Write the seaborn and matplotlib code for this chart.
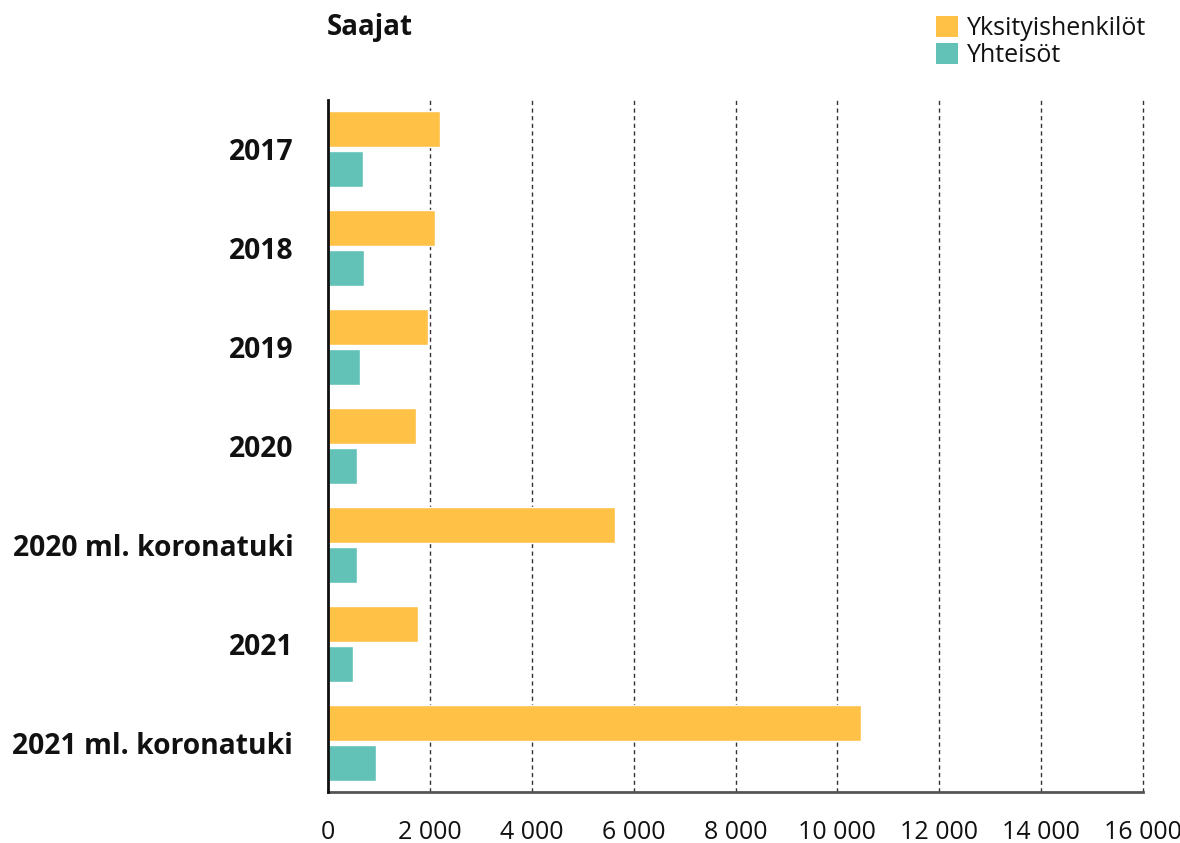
import matplotlib
matplotlib.use("Agg")
import matplotlib.pyplot as plt
from matplotlib.patches import Patch
from matplotlib.ticker import FuncFormatter, MultipleLocator
import pandas as pd
import seaborn as sns

# Recipients of support, by year
years = ["2017", "2018", "2019", "2020", "2020 ml. koronatuki", "2021", "2021 ml. koronatuki"]
individuals = [2190, 2110, 1960, 1720, 5630, 1760, 10460]
organisations = [680, 700, 620, 560, 560, 500, 950]
series_names = ["Yksityishenkilöt", "Yhteisöt"]
colors = ["#FFC247", "#62C2B8"]

df = pd.DataFrame({
    "Vuosi": years * 2,
    "Arvo": individuals + organisations,
    "Saaja": [series_names[0]] * len(years) + [series_names[1]] * len(years),
})

sns.set_theme(style="white")
plt.rcParams["font.family"] = ["Open Sans", "DejaVu Sans"]

fig = plt.figure(figsize=(11.8, 8.43), dpi=100)
ax = fig.add_axes([328 / 1180, 1 - 792 / 843, (1143 - 328) / 1180, (792 - 100) / 843])

sns.barplot(
    data=df, x="Arvo", y="Vuosi", hue="Saaja", order=years, hue_order=series_names,
    palette=colors, orient="h", width=0.81, gap=0.1, legend=False, ax=ax,
    saturation=1, zorder=3,
)

ax.set_xlim(0, 16000)
ax.set_ylim(6.5, -0.5)
ax.xaxis.set_major_locator(MultipleLocator(2000))
ax.xaxis.set_major_formatter(FuncFormatter(lambda v, p: f"{int(v):,}".replace(",", " ")))
ax.grid(axis="x", linestyle=(0, (3, 2.5)), color="#333333", linewidth=1.0, zorder=0)
ax.grid(axis="y", visible=False)
# keep the outermost gridline fully visible at the right edge
for gl in ax.get_xgridlines():
    gl.set_clip_on(False)

for side in ["top", "right"]:
    ax.spines[side].set_visible(False)
ax.spines["left"].set_color("#111111")
ax.spines["left"].set_linewidth(2)
ax.spines["left"].set_zorder(5)
ax.spines["bottom"].set_color("#555555")
ax.spines["bottom"].set_linewidth(2)

ax.set_xlabel("")
ax.set_ylabel("")
ax.tick_params(axis="x", length=0, pad=20, labelsize=18, colors="#111111")
ax.tick_params(axis="y", length=0, pad=25, labelsize=20.3)
for lbl in ax.get_yticklabels():
    lbl.set_fontweight("bold")
    lbl.set_color("#111111")

fig.text(327 / 1180, 1 - 28 / 843, "Saajat", fontsize=20, fontweight="bold",
         color="#111111", ha="left", va="center")

handles = [Patch(facecolor=c, edgecolor="none") for c in colors]
fig.legend(handles, series_names, loc="upper left", bbox_to_anchor=(926 / 1180, 1 - 6 / 843),
           frameon=False, fontsize=18, handlelength=0.88, handleheight=0.88,
           handletextpad=0.35, labelspacing=0.08, borderaxespad=0, labelcolor="#111111")

fig.savefig("out.png", dpi=100)
